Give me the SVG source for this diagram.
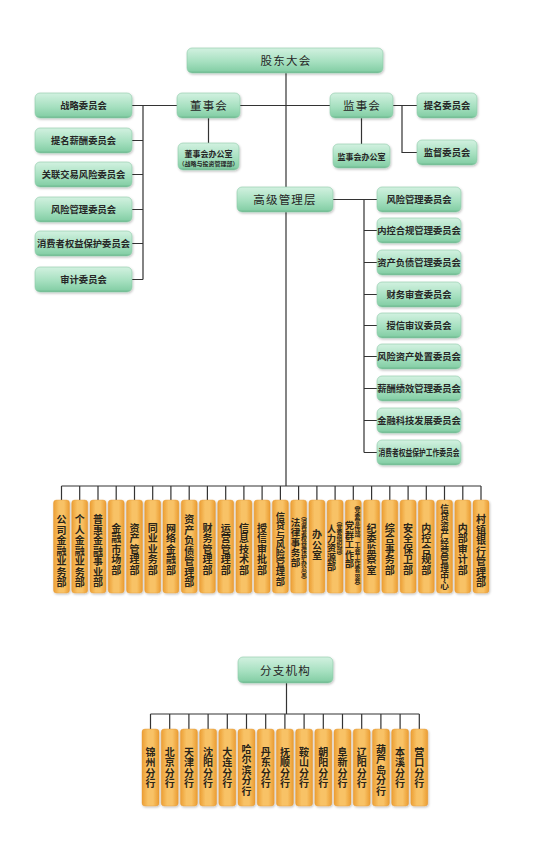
<svg xmlns="http://www.w3.org/2000/svg" width="550" height="863" viewBox="0 0 550 863">
<defs>
<linearGradient id="gg" x1="0" y1="0" x2="0" y2="1">
<stop offset="0" stop-color="#D2F1E0"/>
<stop offset="0.55" stop-color="#A6E0C0"/>
<stop offset="0.9" stop-color="#88D0A8"/>
<stop offset="1" stop-color="#68B68C"/>
</linearGradient>
<linearGradient id="og" x1="0" y1="0" x2="1" y2="0">
<stop offset="0" stop-color="#EC9E33"/>
<stop offset="0.35" stop-color="#F8C266"/>
<stop offset="0.65" stop-color="#F8C266"/>
<stop offset="1" stop-color="#EB9C31"/>
</linearGradient>
<filter id="sh" x="-20%" y="-20%" width="140%" height="140%">
<feDropShadow dx="0.8" dy="1.2" stdDeviation="0.8" flood-color="#000" flood-opacity="0.25"/>
</filter>
</defs>
<style>
.g{fill:url(#gg);stroke:#8FCBA9;stroke-width:0.6;filter:url(#sh)}
.o{fill:url(#og);stroke:#E39A38;stroke-width:0.4;filter:url(#sh)}
text{font-family:"Noto Sans CJK SC","Noto Sans",sans-serif;fill:#262626;text-anchor:middle}
.b{font-size:11.5px;letter-spacing:1.2px}
.c{font-size:9.3px;font-weight:700}
.v{writing-mode:vertical-rl;font-size:10px;font-weight:700;letter-spacing:0.5px;fill:#2a2418}
.s{writing-mode:vertical-rl;font-size:5.8px;font-weight:700;fill:#2a2418}
.conn path{fill:none;stroke:#333;stroke-width:1.2}
</style>
<rect width="550" height="863" fill="#fff"/>
<g class="conn">
<path d="M286 73V486"/>
<path d="M240 105.5H330"/>
<path d="M177 105.5H143V279.5M132 105.5H143M132 140.5H143M132 174.5H143M132 209.5H143M132 243.5H143M132 279.5H143"/>
<path d="M208.5 118V143"/>
<path d="M361.5 118V144"/>
<path d="M393 105.5H417M402 105.5V152.5H417"/>
<path d="M333 199.5H377M364 199.5V452.5M364 230.5H377M364 262.5H377M364 294.5H377M364 325.5H377M364 356.5H377M364 388.5H377M364 420.5H377M364 452.5H377"/>
<path d="M61.5 486H481M61.5 486V500M79.7 486V500M98 486V500M116.2 486V500M134.5 486V500M152.7 486V500M170.9 486V500M189.2 486V500M207.4 486V500M225.7 486V500M243.9 486V500M262.1 486V500M280.4 486V500M298.6 486V500M316.9 486V500M335.1 486V500M353.3 486V500M371.6 486V500M389.8 486V500M408.1 486V500M426.3 486V500M444.5 486V500M462.8 486V500M481 486V500"/>
<path d="M286.5 683V714M150.5 714H419.3M150.5 714V729M169.7 714V729M188.9 714V729M208.1 714V729M227.3 714V729M246.5 714V729M265.7 714V729M284.9 714V729M304.1 714V729M323.3 714V729M342.5 714V729M361.7 714V729M380.9 714V729M400.1 714V729M419.3 714V729"/>
</g>

<g id="gudong"><rect class="g" x="187" y="48" width="196" height="25" rx="5"/><text class="b" x="286" y="65">股东大会</text></g>
<g id="dongshihui"><rect class="g" x="177" y="93" width="63" height="25" rx="5"/><text class="b" x="209" y="110">董事会</text></g>
<g id="jianshihui"><rect class="g" x="330" y="93" width="63" height="25" rx="5"/><text class="b" x="362" y="110">监事会</text></g>
<g id="dsbgs"><rect class="g" x="178" y="143" width="61" height="27" rx="5"/><text x="208.5" y="157" style="font-size:8.5px;font-weight:700" textLength="48" lengthAdjust="spacingAndGlyphs">董事会办公室</text><text x="208.5" y="165.5" style="font-size:5.8px;font-weight:700" textLength="60" lengthAdjust="spacingAndGlyphs">（战略与投资管理部）</text></g>
<g id="jsbgs"><rect class="g" x="333" y="144" width="57" height="24" rx="5"/><text x="361.5" y="159.5" style="font-size:8.5px;font-weight:700" textLength="48" lengthAdjust="spacingAndGlyphs">监事会办公室</text></g>
<g id="timing"><rect class="g" x="417" y="93" width="60" height="25" rx="5"/><text class="c" x="447" y="109">提名委员会</text></g>
<g id="jiandu"><rect class="g" x="417" y="140" width="60" height="25" rx="5"/><text class="c" x="447" y="156">监督委员会</text></g>
<g id="gaoji"><rect class="g" x="237" y="187" width="96" height="25" rx="5"/><text class="b" x="285" y="204">高级管理层</text></g>

<g id="l1"><rect class="g" x="35" y="93" width="97" height="25" rx="5"/><text class="c" x="83.5" y="109">战略委员会</text></g>
<g id="l2"><rect class="g" x="35" y="128" width="97" height="25" rx="5"/><text class="c" x="83.5" y="144">提名薪酬委员会</text></g>
<g id="l3"><rect class="g" x="35" y="162" width="97" height="25" rx="5"/><text class="c" x="83.5" y="178">关联交易风险委员会</text></g>
<g id="l4"><rect class="g" x="35" y="197" width="97" height="25" rx="5"/><text class="c" x="83.5" y="213">风险管理委员会</text></g>
<g id="l5"><rect class="g" x="35" y="231" width="97" height="25" rx="5"/><text class="c" x="83.5" y="247">消费者权益保护委员会</text></g>
<g id="l6"><rect class="g" x="35" y="267" width="97" height="25" rx="5"/><text class="c" x="83.5" y="283">审计委员会</text></g>

<g id="r1"><rect class="g" x="377" y="187" width="84" height="25" rx="5"/><text class="c" x="419" y="203">风险管理委员会</text></g>
<g id="r2"><rect class="g" x="377" y="218" width="84" height="25" rx="5"/><text class="c" x="419" y="234">内控合规管理委员会</text></g>
<g id="r3"><rect class="g" x="377" y="250" width="84" height="25" rx="5"/><text class="c" x="419" y="266">资产负债管理委员会</text></g>
<g id="r4"><rect class="g" x="377" y="282" width="84" height="25" rx="5"/><text class="c" x="419" y="298">财务审查委员会</text></g>
<g id="r5"><rect class="g" x="377" y="313" width="84" height="25" rx="5"/><text class="c" x="419" y="329">授信审议委员会</text></g>
<g id="r6"><rect class="g" x="377" y="344" width="84" height="25" rx="5"/><text class="c" x="419" y="360">风险资产处置委员会</text></g>
<g id="r7"><rect class="g" x="377" y="376" width="84" height="25" rx="5"/><text class="c" x="419" y="392">薪酬绩效管理委员会</text></g>
<g id="r8"><rect class="g" x="377" y="408" width="84" height="25" rx="5"/><text class="c" x="419" y="424">金融科技发展委员会</text></g>
<g id="r9"><rect class="g" x="377" y="440" width="84" height="25" rx="5"/><text class="c" x="419" y="456" textLength="81" lengthAdjust="spacingAndGlyphs">消费者权益保护工作委员会</text></g>

<g id="d0"><rect class="o" x="53.5" y="500" width="16" height="93" rx="3"/><text class="v" x="61.5" y="551">公司金融业务部</text></g>
<g id="d1"><rect class="o" x="71.7" y="500" width="16" height="93" rx="3"/><text class="v" x="79.7" y="551">个人金融业务部</text></g>
<g id="d2"><rect class="o" x="90" y="500" width="16" height="93" rx="3"/><text class="v" x="98" y="551">普惠金融事业部</text></g>
<g id="d3"><rect class="o" x="108.2" y="500" width="16" height="93" rx="3"/><text class="v" x="116.2" y="549">金融市场部</text></g>
<g id="d4"><rect class="o" x="126.5" y="500" width="16" height="93" rx="3"/><text class="v" x="134.5" y="549">资产管理部</text></g>
<g id="d5"><rect class="o" x="144.7" y="500" width="16" height="93" rx="3"/><text class="v" x="152.7" y="549">同业业务部</text></g>
<g id="d6"><rect class="o" x="162.9" y="500" width="16" height="93" rx="3"/><text class="v" x="170.9" y="549">网络金融部</text></g>
<g id="d7"><rect class="o" x="181.2" y="500" width="16" height="93" rx="3"/><text class="v" x="189.2" y="551">资产负债管理部</text></g>
<g id="d8"><rect class="o" x="199.4" y="500" width="16" height="93" rx="3"/><text class="v" x="207.4" y="549">财务管理部</text></g>
<g id="d9"><rect class="o" x="217.7" y="500" width="16" height="93" rx="3"/><text class="v" x="225.7" y="549">运营管理部</text></g>
<g id="d10"><rect class="o" x="235.9" y="500" width="16" height="93" rx="3"/><text class="v" x="243.9" y="549">信息技术部</text></g>
<g id="d11"><rect class="o" x="254.1" y="500" width="16" height="93" rx="3"/><text class="v" x="262.1" y="549">授信审批部</text></g>
<g id="d12"><rect class="o" x="272.4" y="500" width="16" height="93" rx="3"/><text class="v" x="280.4" y="549" style="font-size:9.2px;letter-spacing:0">信贷与风险管理部</text></g>
<g id="d13"><rect class="o" x="290.6" y="500" width="16" height="93" rx="3"/><text class="s" x="304" y="548">（消费者权益保护办公室）</text><text class="v" x="295.5" y="543" style="font-size:9.5px">法律事务部</text></g>
<g id="d14"><rect class="o" x="308.9" y="500" width="16" height="93" rx="3"/><text class="v" x="316.9" y="545">办公室</text></g>
<g id="d15"><rect class="o" x="327.1" y="500" width="16" height="93" rx="3"/><text class="s" x="339.3" y="538">（党委组织部）</text><text class="v" x="331.5" y="548" style="font-size:9px">人力资源部</text></g>
<g id="d16"><rect class="o" x="345.3" y="500" width="16" height="93" rx="3"/><text class="s" x="357.5" y="545">（党委宣传部、工会工作委员会）</text><text class="v" x="349.5" y="545" style="font-size:9px">党群工作部</text></g>
<g id="d17"><rect class="o" x="363.6" y="500" width="16" height="93" rx="3"/><text class="v" x="371.6" y="549">纪委监察室</text></g>
<g id="d18"><rect class="o" x="381.8" y="500" width="16" height="93" rx="3"/><text class="v" x="389.8" y="549">综合事务部</text></g>
<g id="d19"><rect class="o" x="400.1" y="500" width="16" height="93" rx="3"/><text class="v" x="408.1" y="549">安全保卫部</text></g>
<g id="d20"><rect class="o" x="418.3" y="500" width="16" height="93" rx="3"/><text class="v" x="426.3" y="549">内控合规部</text></g>
<g id="d21"><rect class="o" x="436.5" y="500" width="16" height="93" rx="3"/><text class="v" x="444.5" y="547" style="font-size:8.6px;letter-spacing:0">信贷资产经营管理中心</text></g>
<g id="d22"><rect class="o" x="454.8" y="500" width="16" height="93" rx="3"/><text class="v" x="462.8" y="549">内部审计部</text></g>
<g id="d23"><rect class="o" x="473" y="500" width="16" height="93" rx="3"/><text class="v" x="481" y="551">村镇银行管理部</text></g>

<g id="fenzhi"><rect class="g" x="238" y="657" width="95" height="26" rx="5"/><text class="b" x="285.5" y="674.5">分支机构</text></g>

<g id="b0"><rect class="o" x="142" y="729" width="17" height="77" rx="3"/><text class="v" x="150.5" y="768">锦州分行</text></g>
<g id="b1"><rect class="o" x="161.2" y="729" width="17" height="77" rx="3"/><text class="v" x="169.7" y="768">北京分行</text></g>
<g id="b2"><rect class="o" x="180.4" y="729" width="17" height="77" rx="3"/><text class="v" x="188.9" y="768">天津分行</text></g>
<g id="b3"><rect class="o" x="199.6" y="729" width="17" height="77" rx="3"/><text class="v" x="208.1" y="768">沈阳分行</text></g>
<g id="b4"><rect class="o" x="218.8" y="729" width="17" height="77" rx="3"/><text class="v" x="227.3" y="768">大连分行</text></g>
<g id="b5"><rect class="o" x="238" y="729" width="17" height="77" rx="3"/><text class="v" x="246.5" y="770">哈尔滨分行</text></g>
<g id="b6"><rect class="o" x="257.2" y="729" width="17" height="77" rx="3"/><text class="v" x="265.7" y="768">丹东分行</text></g>
<g id="b7"><rect class="o" x="276.4" y="729" width="17" height="77" rx="3"/><text class="v" x="284.9" y="768">抚顺分行</text></g>
<g id="b8"><rect class="o" x="295.6" y="729" width="17" height="77" rx="3"/><text class="v" x="304.1" y="768">鞍山分行</text></g>
<g id="b9"><rect class="o" x="314.8" y="729" width="17" height="77" rx="3"/><text class="v" x="323.3" y="768">朝阳分行</text></g>
<g id="b10"><rect class="o" x="334" y="729" width="17" height="77" rx="3"/><text class="v" x="342.5" y="768">阜新分行</text></g>
<g id="b11"><rect class="o" x="353.2" y="729" width="17" height="77" rx="3"/><text class="v" x="361.7" y="768">辽阳分行</text></g>
<g id="b12"><rect class="o" x="372.4" y="729" width="17" height="77" rx="3"/><text class="v" x="380.9" y="770">葫芦岛分行</text></g>
<g id="b13"><rect class="o" x="391.6" y="729" width="17" height="77" rx="3"/><text class="v" x="400.1" y="768">本溪分行</text></g>
<g id="b14"><rect class="o" x="410.8" y="729" width="17" height="77" rx="3"/><text class="v" x="419.3" y="768">营口分行</text></g>
</svg>
